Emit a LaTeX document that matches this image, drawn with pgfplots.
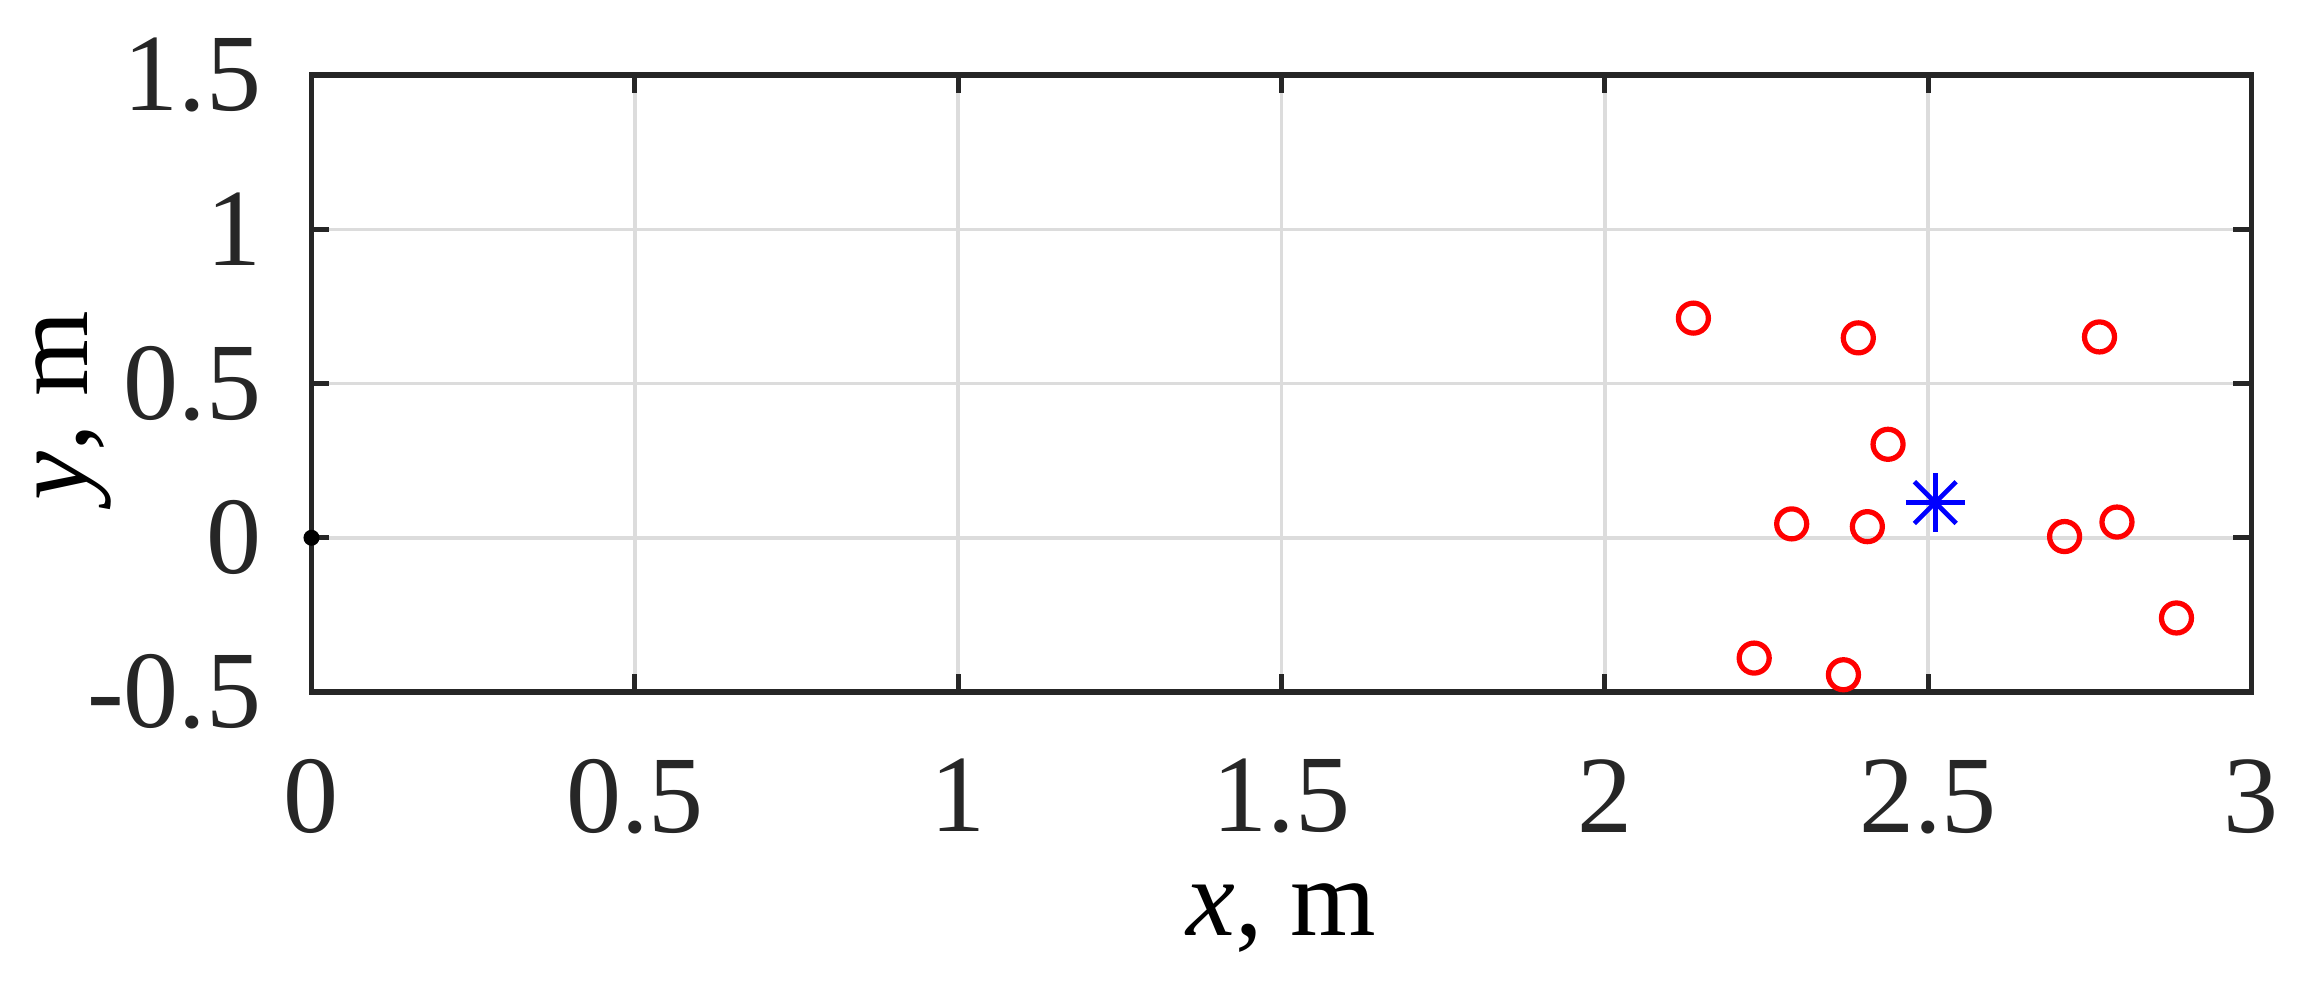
\documentclass[border=0pt]{standalone}
\usepackage{pgfplots}
\pgfplotsset{compat=1.18}
\usepackage{fontspec}
\setmainfont{Liberation Serif}
\definecolor{axgray}{RGB}{38,38,38}
\definecolor{gridgray}{RGB}{220,220,220}
\begin{document}
\fontsize{22}{26.4}\selectfont
\begin{tikzpicture}
\begin{axis}[
  scale only axis, width=388pt, height=123.4pt,
  xmin=0, xmax=3, ymin=-0.5, ymax=1.5,
  xtick={0,0.5,1,1.5,2,2.5,3}, ytick={-0.5,0,0.5,1,1.5},
  grid=major, major grid style={line width=0.7pt, color=gridgray},
  axis line style={line width=1.05pt, color=axgray},
  tick style={line width=1.05pt, color=axgray},
  tick align=inside, major tick length=3.6pt,
  tick pos=both,
  /pgf/number format/assume math mode=true,
  ticklabel style={color=axgray},
  xticklabel style={yshift=-5.9pt},
  yticklabel style={xshift=-2.5pt},
  xlabel={\textit{x}, m}, ylabel={\textit{y}, m},
  xlabel style={at={(axis description cs:0.5,-0.394)}, anchor=base, color=black},
  ylabel style={at={(axis description cs:-0.1157,0.4635)}, anchor=base, rotate=0, color=black},
  clip=false,
]
\addplot[only marks, mark=*, mark size=1.4pt, color=black] coordinates {(0,0)};
\addplot[only marks, mark=o, mark size=3.0pt, color=red, mark options={line width=1.05pt}] coordinates {
(2.137,0.712) (2.392,0.648) (2.765,0.651) (2.438,0.303) (2.289,0.045)
(2.406,0.036) (2.711,0.004) (2.792,0.051) (2.884,-0.260) (2.231,-0.390) (2.369,-0.444)
};
\addplot[only marks, mark=+, mark size=5.9pt, color=blue, mark options={line width=0.95pt}] coordinates {(2.511,0.114)};
\addplot[only marks, mark=x, mark size=5.9pt, color=blue, mark options={line width=0.95pt}] coordinates {(2.511,0.114)};
\end{axis}
\pgfresetboundingbox
\path (current axis.south west) ++(-62.3pt,-58pt) rectangle ++(460.8pt,196.4pt);
\end{tikzpicture}
\end{document}
